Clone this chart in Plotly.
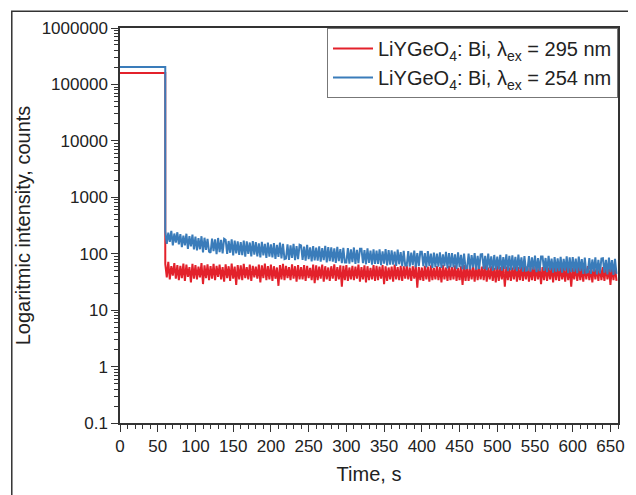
import plotly.graph_objects as go

# plateau (excitation on) then afterglow decay, sampled every 2 s from 60 s
plateau_t = [0, 60]
decay_t0 = 60
decay_dt = 2

red_plateau = [160000, 160000]
blue_plateau = [203000, 203000]

red_decay = [
    66, 38, 72, 35, 60, 41, 68, 36, 63, 34,
    61, 37, 67, 33, 64, 39, 58, 31, 66, 36,
    63, 35, 59, 38, 68, 29, 62, 37, 65, 34,
    60, 36, 66, 34, 61, 39, 64, 35, 58, 32,
    65, 37, 60, 33, 67, 36, 59, 28, 63, 35,
    62, 34, 66, 37, 58, 35, 64, 33, 61, 38,
    59, 36, 64, 31, 62, 37, 67, 34, 60, 35,
    64, 33, 60, 36, 57, 27, 63, 35, 66, 34,
    61, 37, 58, 34, 65, 36, 60, 32, 63, 35,
    58, 35, 63, 33, 61, 37, 56, 34, 64, 30,
    62, 34, 59, 36, 64, 32, 60, 35, 57, 33,
    60, 36, 65, 33, 58, 35, 62, 26, 61, 34,
    63, 33, 57, 35, 61, 34, 59, 36, 64, 32,
    58, 35, 62, 31, 60, 34, 56, 35, 63, 33,
    61, 34, 59, 36, 63, 29, 60, 33, 57, 35,
    59, 32, 64, 35, 58, 34, 61, 33, 60, 36,
    62, 35, 57, 33, 60, 36, 63, 25, 58, 34,
    57, 33, 61, 35, 59, 32, 62, 34, 56, 35,
    60, 34, 58, 31, 63, 35, 57, 33, 61, 34,
    58, 35, 62, 33, 56, 34, 60, 28, 63, 33,
    61, 33, 57, 35, 59, 32, 62, 34, 58, 35,
    59, 34, 63, 32, 57, 35, 60, 33, 56, 31,
    62, 33, 58, 35, 61, 26, 59, 34, 57, 33,
    57, 35, 60, 32, 58, 34, 62, 33, 59, 35,
    60, 32, 56, 34, 63, 33, 58, 35, 61, 29,
    58, 34, 61, 33, 57, 35, 60, 31, 62, 34,
    61, 33, 59, 35, 56, 32, 60, 34, 58, 26,
    57, 35, 62, 33, 59, 34, 56, 32, 61, 35,
    60, 34, 57, 31, 61, 35, 58, 33, 62, 34,
    58, 33, 61, 35, 57, 28, 60, 34, 59, 33,
]

blue_decay = [
    248, 150, 236, 162, 255, 141, 228, 158, 240, 146,
    222, 131, 210, 140, 226, 122, 205, 135, 218, 119,
    200, 114, 188, 120, 204, 106, 192, 117, 183, 109,
    104, 186, 111, 179, 98, 190, 107, 176, 101, 184,
    177, 99, 168, 104, 180, 93, 170, 101, 165, 95,
    160, 94, 171, 89, 166, 99, 158, 90, 168, 96,
    160, 90, 152, 86, 163, 93, 150, 84, 157, 89,
    146, 86, 154, 81, 143, 88, 157, 83, 150, 80,
    82, 147, 78, 140, 84, 150, 77, 137, 80, 144,
    140, 78, 133, 75, 143, 80, 130, 73, 137, 76,
    128, 75, 135, 72, 126, 77, 138, 70, 131, 74,
    130, 72, 124, 69, 133, 74, 121, 68, 127, 70,
    70, 126, 67, 119, 71, 129, 66, 117, 68, 122,
    122, 68, 116, 65, 125, 69, 113, 64, 119, 66,
    113, 66, 119, 63, 110, 67, 121, 62, 116, 64,
    115, 64, 109, 61, 118, 65, 107, 60, 112, 62,
    62, 111, 59, 105, 63, 114, 58, 103, 60, 108,
    108, 60, 102, 57, 111, 61, 100, 56, 105, 58,
    100, 59, 106, 56, 97, 60, 108, 55, 103, 57,
    103, 57, 97, 54, 106, 58, 95, 53, 100, 55,
    56, 100, 53, 94, 57, 103, 52, 92, 54, 97,
    98, 54, 92, 51, 100, 55, 90, 50, 95, 52,
    89, 53, 95, 50, 87, 54, 97, 49, 92, 51,
    94, 52, 88, 49, 96, 53, 86, 48, 91, 50,
    51, 91, 48, 86, 52, 93, 47, 84, 49, 89,
    89, 50, 84, 47, 92, 51, 82, 46, 87, 48,
    83, 49, 88, 46, 81, 50, 90, 45, 86, 47,
    87, 48, 82, 45, 89, 49, 80, 44, 85, 46,
    47, 84, 44, 79, 48, 86, 43, 78, 45, 82,
    83, 46, 78, 43, 85, 47, 77, 42, 81, 44,
]

names = ["LiYGeO<sub>4</sub>: Bi, λ<sub>ex</sub> = 295 nm",
         "LiYGeO<sub>4</sub>: Bi, λ<sub>ex</sub> = 254 nm"]
colors = ["#e3212b", "#3a7cba"]

decay_t = [decay_t0 + decay_dt * i for i in range(len(red_decay))]
t_all = plateau_t + decay_t

fig = go.Figure()
for name, col, plat, dec in [(names[0], colors[0], red_plateau, red_decay),
                             (names[1], colors[1], blue_plateau, blue_decay)]:
    fig.add_trace(go.Scatter(
        x=t_all, y=plat + dec, mode="lines", name=name,
        line=dict(color=col, width=2),
    ))

axis_font = dict(family="Liberation Sans, Arial", size=17, color="#222")
# page body has an 8px margin, so the figure is a bit smaller than the window
fig.update_layout(
    width=628, height=487, autosize=False,
    margin=dict(l=112, r=11, t=15, b=72),
    paper_bgcolor="white", plot_bgcolor="white",
    font=dict(family="Liberation Sans, Arial", color="#222"),
    showlegend=True,
    legend=dict(x=1, y=1, xanchor="right", yanchor="top",
                bgcolor="white", bordercolor="#777", borderwidth=1,
                font=dict(size=20, color="#222"),
                tracegroupgap=0, itemwidth=40),
    xaxis=dict(range=[0, 660], dtick=50, tick0=0,
               ticks="outside", ticklen=7, tickwidth=1.3, tickcolor="#333",
               minor=dict(dtick=10, ticks="outside", ticklen=4, tickcolor="#333"),
               showline=True, linecolor="#333", linewidth=1.5, mirror=True,
               showgrid=False, zeroline=False, tickfont=axis_font,
               title=dict(text="Time, s", font=dict(size=20), standoff=12)),
    yaxis=dict(type="log", range=[-1, 6],
               tickvals=[0.1, 1, 10, 100, 1000, 10000, 100000, 1000000],
               ticktext=["0.1", "1", "10", "100", "1000", "10000", "100000", "1000000"],
               ticks="outside", ticklen=7, tickwidth=1.3, tickcolor="#333",
               minor=dict(dtick="D1", ticks="outside", ticklen=4, tickcolor="#333"),
               showline=True, linecolor="#333", linewidth=1.5, mirror=True,
               showgrid=False, zeroline=False, tickfont=axis_font,
               title=dict(text="Logaritmic intensity, counts", font=dict(size=20), standoff=6)),
)

# outer frame around the figure
fig.add_shape(type="rect", xref="paper", yref="paper",
              x0=-0.2173, x1=1.0282, y0=-0.2, y1=1.0425,
              line=dict(color="#333", width=1.5), layer="below")

fig.write_html("out.html")
